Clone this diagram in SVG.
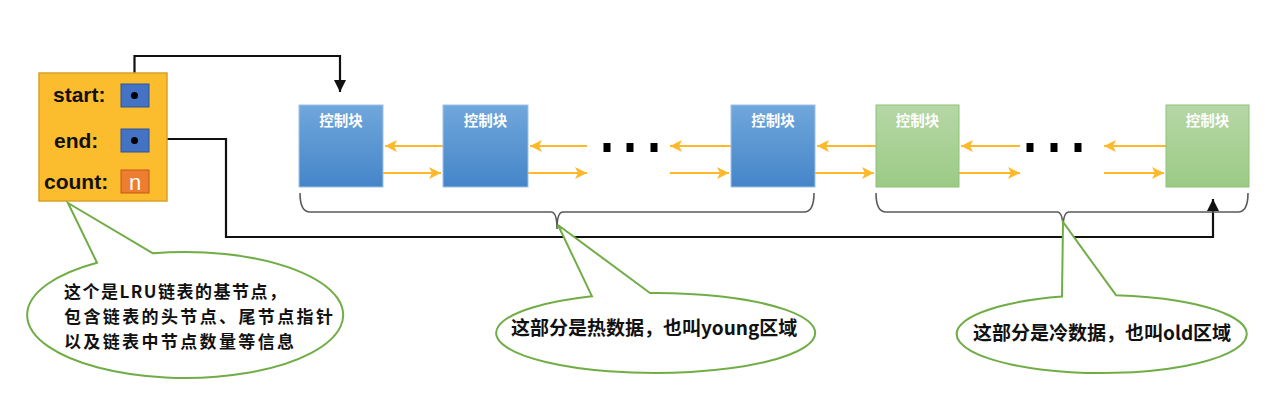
<svg xmlns="http://www.w3.org/2000/svg" width="1273" height="400" viewBox="0 0 1273 400">
<style>
.lbl{font-family:"Liberation Sans",Arial,sans-serif;font-weight:bold;font-size:21px;fill:#111}
.blk{font-family:"Noto Sans CJK SC","Noto Sans",sans-serif;font-weight:bold;font-size:14.5px;fill:#fff;text-anchor:middle}
.cj{font-family:"Noto Sans CJK SC","Noto Sans",sans-serif;font-weight:bold;font-size:19px;fill:#111}
.cs{font-family:"Noto Sans CJK SC","Noto Sans",sans-serif;font-weight:bold;font-size:17px;fill:#111}
.oa{stroke:#FDB92A;stroke-width:2;fill:none}
.ba{stroke:#111;stroke-width:2.2;fill:none}
.brace{stroke:#5a5a5a;stroke-width:1.6;fill:none}
.callout{fill:#fff;stroke:#70AD47;stroke-width:2}
.dot{fill:#000}
.blue{fill:url(#gb);stroke:#9DC3E6;stroke-width:1}
.green{fill:url(#gg);stroke:#8CC476;stroke-width:1}
</style>
<defs>
<linearGradient id="gb" x1="0" y1="0" x2="0" y2="1"><stop offset="0" stop-color="#70A7DC"/><stop offset="1" stop-color="#4585C8"/></linearGradient>
<linearGradient id="gg" x1="0" y1="0" x2="0" y2="1"><stop offset="0" stop-color="#B6D7A6"/><stop offset="1" stop-color="#9CCA85"/></linearGradient>
<marker id="oh" markerUnits="userSpaceOnUse" markerWidth="14" markerHeight="14" refX="12" refY="6" orient="auto"><path d="M0,0 L12,6 L0,12 L3,6 Z" fill="#FDB92A"/></marker>
<marker id="bh" markerUnits="userSpaceOnUse" markerWidth="14" markerHeight="14" refX="12" refY="6" orient="auto"><path d="M0,0 L12,6 L0,12 Z" fill="#111"/></marker>
</defs>
<rect width="1273" height="400" fill="#fff"/>

<g id="connectors">
<path class="ba" d="M134.5,95.5 V56 H340 V92" marker-end="url(#bh)"/>
<path class="ba" d="M167,139 H226 V237 H1213 V199" marker-end="url(#bh)"/>
<path class="oa" d="M443,146 H385" marker-end="url(#oh)"/>
<path class="oa" d="M383,173 H441" marker-end="url(#oh)"/>
<path class="oa" d="M587,146 H530" marker-end="url(#oh)"/>
<path class="oa" d="M528,173 H587" marker-end="url(#oh)"/>
<path class="oa" d="M731,146 H670" marker-end="url(#oh)"/>
<path class="oa" d="M670,173 H729" marker-end="url(#oh)"/>
<path class="oa" d="M876,146 H817" marker-end="url(#oh)"/>
<path class="oa" d="M815,173 H874" marker-end="url(#oh)"/>
<path class="oa" d="M1020,146 H961" marker-end="url(#oh)"/>
<path class="oa" d="M959,173 H1020" marker-end="url(#oh)"/>
<path class="oa" d="M1166,146 H1104" marker-end="url(#oh)"/>
<path class="oa" d="M1104,173 H1164" marker-end="url(#oh)"/>
<path class="brace" d="M300,193 Q300,212 310,212 H551 Q557,212 557,229 Q557,212 563,212 H804 Q814,212 814,193"/>
<path class="brace" d="M876,193 Q876,212 886,212 H1057 Q1063,212 1063,229 Q1063,212 1069,212 H1238 Q1248,212 1248,193"/>
</g>

<g id="dots">
<rect class="dot" x="603.5" y="143" width="7" height="9"/>
<rect class="dot" x="626.5" y="143" width="7" height="9"/>
<rect class="dot" x="650.5" y="143" width="7" height="9"/>
<rect class="dot" x="1026.5" y="143" width="7" height="9"/>
<rect class="dot" x="1050.5" y="143" width="7" height="9"/>
<rect class="dot" x="1074.5" y="143" width="7" height="9"/>
</g>

<g id="base-node">
<rect x="39" y="73" width="128" height="128" fill="#FBBD2E" stroke="#D9A128" stroke-width="1.5"/>
<text class="lbl" x="53" y="102">start:</text>
<rect x="121" y="84" width="28" height="23" fill="#4472C4" stroke="#2F5597" stroke-width="1"/>
<circle cx="134.5" cy="95.5" r="3.5" fill="#000"/>
<text class="lbl" x="54" y="148">end:</text>
<rect x="121" y="129" width="28" height="23" fill="#4472C4" stroke="#2F5597" stroke-width="1"/>
<circle cx="134.5" cy="140.5" r="3.5" fill="#000"/>
<text class="lbl" x="44" y="189">count:</text>
<rect x="121" y="170" width="28" height="23" fill="#ED7D31" stroke="#C55A11" stroke-width="1"/>
<text x="135" y="190" font-family="Liberation Sans,Arial,sans-serif" font-size="22" fill="#fff" text-anchor="middle">n</text>
</g>

<g id="block1"><rect class="blue" x="299" y="105" width="84" height="82"/><text class="blk" x="341" y="126">控制块</text></g>
<g id="block2"><rect class="blue" x="443" y="105" width="85" height="82"/><text class="blk" x="485.5" y="126">控制块</text></g>
<g id="block3"><rect class="blue" x="731" y="105" width="84" height="82"/><text class="blk" x="773" y="126">控制块</text></g>
<g id="block4"><rect class="green" x="876" y="105" width="83" height="82"/><text class="blk" x="917.5" y="126">控制块</text></g>
<g id="block5"><rect class="green" x="1166" y="105" width="83" height="82"/><text class="blk" x="1207.5" y="126">控制块</text></g>

<g id="callout-base">
<path class="callout" d="M153,253.3 L68,203 L97,262.7 A158,63 0 1 0 153,253.3 Z"/>
<text class="cs" x="64" y="298" textLength="222" lengthAdjust="spacing">这个是LRU链表的基节点，</text>
<text class="cs" x="64" y="323" textLength="269" lengthAdjust="spacing">包含链表的头节点、尾节点指针</text>
<text class="cs" x="64" y="348" textLength="230" lengthAdjust="spacing">以及链表中节点数量等信息</text>
</g>
<g id="callout-young">
<path class="callout" d="M650,293 L558,225 L592,296.3 A159.5,40 0 1 0 650,293 Z"/>
<text class="cj" x="511" y="335">这部分是热数据，也叫young区域</text>
</g>
<g id="callout-old">
<path class="callout" d="M1116,295.2 L1063,222 L1062,296.5 A145,39 0 1 0 1116,295.2 Z"/>
<text class="cj" x="973" y="340">这部分是冷数据，也叫old区域</text>
</g>
</svg>
